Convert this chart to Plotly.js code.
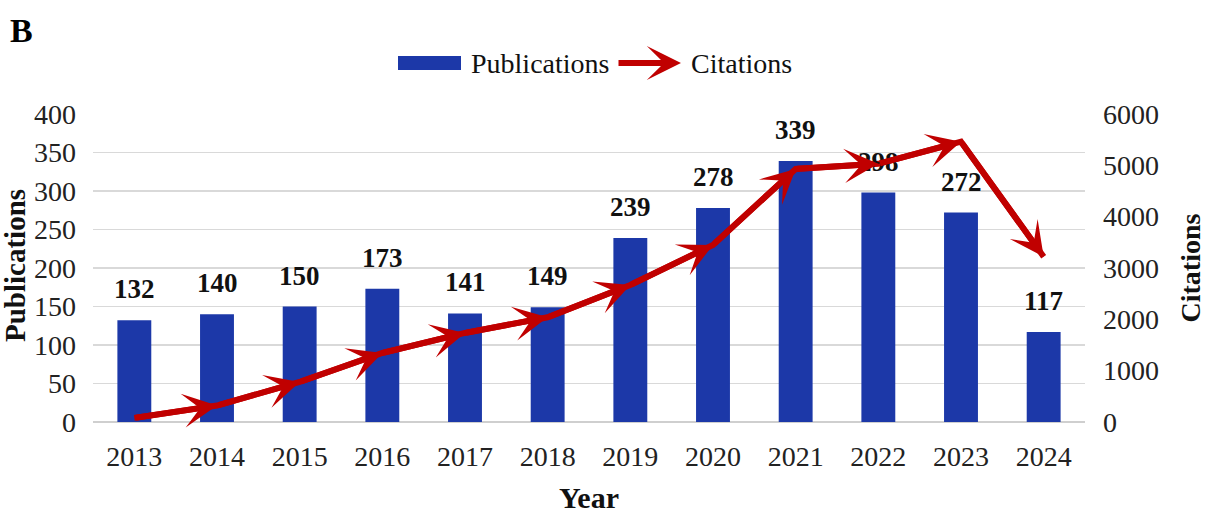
<!DOCTYPE html>
<html>
<head>
<meta charset="utf-8">
<script src="https://cdn.plot.ly/plotly-3.0.1.min.js"></script>
<style>html,body{margin:0;padding:0;background:#fff;}#chart{width:1213px;height:515px;}</style>
</head>
<body>
<div id="chart"></div>
<script>
const years = ['2013','2014','2015','2016','2017','2018','2019','2020','2021','2022','2023','2024'];
const publications = [132,140,150,173,141,149,239,278,339,298,272,117];
const citations = [80,320,780,1345,1735,2040,2670,3450,4930,5030,5460,3220];
const leftTicks = [0,50,100,150,200,250,300,350,400];
const rightTicks = [0,1000,2000,3000,4000,5000,6000];

const FONT = 'Liberation Serif, Times New Roman, serif';
const RED = '#c00000';
const BLUE = '#1c38a8';

const W = 1213, H = 515, ML = 93, MR = 128, MT = 114, MB = 93;
const PW = W - ML - MR, PH = H - MT - MB;
const px = X => (X - ML) / PW;
const py = Y => (H - MB - Y) / PH;

const traces = [
  {type:'bar', name:'Publications', x:years, y:publications, marker:{color:BLUE}, width:0.41, yaxis:'y', hoverinfo:'skip'},
  {type:'scatter', mode:'lines', name:'Citations', x:years, y:citations, yaxis:'y2', line:{color:RED, width:6}, hoverinfo:'skip'}
];

const annotations = [];
const shapes = [];
// bar value labels
years.forEach((yr,i)=>{
  annotations.push({x:i, y:publications[i], xref:'x', yref:'y', text:'<b>'+publications[i]+'</b>', showarrow:false,
    yanchor:'middle', yshift:31, font:{family:FONT, size:27, color:'#111'}});
});
// arrowheads on citation segments
for(let i=1;i<years.length;i++){
  annotations.push({x:i, y:citations[i], xref:'x', yref:'y2', axref:'x', ayref:'y2',
    ax:i-1, ay:citations[i-1], text:'', showarrow:true, arrowhead:3, arrowsize:0.95, arrowwidth:6, arrowcolor:RED, standoff:0});
}
// panel letter
annotations.push({x:px(21), y:py(30), xref:'paper', yref:'paper', xanchor:'center', yanchor:'middle', text:'<b>B</b>', showarrow:false,
  font:{family:FONT, size:34, color:'#000'}});
// left axis title
annotations.push({x:px(15), y:py(266), xref:'paper', yref:'paper', xanchor:'center', yanchor:'middle', textangle:-90,
  text:'<b>Publications</b>', showarrow:false, font:{family:FONT, size:29, color:'#111'}});
// custom legend
shapes.push({type:'rect', xref:'paper', yref:'paper', x0:px(398), x1:px(461), y0:py(70), y1:py(56), fillcolor:BLUE, line:{width:0}});
annotations.push({x:px(469), y:py(63), xref:'paper', yref:'paper', xanchor:'left', yanchor:'middle', text:'Publications', showarrow:false,
  font:{family:FONT, size:28, color:'#111'}});
annotations.push({x:px(681), y:py(63), xref:'paper', yref:'paper', axref:'pixel', ayref:'pixel', ax:-64, ay:0, text:'', showarrow:true,
  arrowhead:3, arrowsize:0.95, arrowwidth:6, arrowcolor:RED, standoff:0});
annotations.push({x:px(689), y:py(63), xref:'paper', yref:'paper', xanchor:'left', yanchor:'middle', text:'Citations', showarrow:false,
  font:{family:FONT, size:28, color:'#111'}});

const layout = {
  width:W, height:H,
  margin:{l:ML, r:MR, t:MT, b:MB},
  paper_bgcolor:'#fff', plot_bgcolor:'#fff',
  font:{family:FONT, size:28, color:'#222'},
  showlegend:false,
  xaxis:{type:'category', range:[-0.5, 11.5], tickfont:{family:FONT, size:28, color:'#222'}, ticks:'', ticklabelstandoff:15, showgrid:false, showline:false, zeroline:false,
    title:{text:'<b>Year</b>', font:{family:FONT, size:30, color:'#111'}, standoff:15}, automargin:false},
  yaxis:{range:[0,400], tickvals:leftTicks, ticks:'', ticklabelstandoff:16, showgrid:true, gridcolor:'#d9d9d9', gridwidth:1.3, zeroline:true, zerolinecolor:'#cfcfcf', zerolinewidth:1.5,
    tickfont:{family:FONT, size:28, color:'#222'}, automargin:false},
  yaxis2:{range:[0,6000], tickvals:rightTicks, overlaying:'y', side:'right', ticks:'', ticklabelstandoff:17, showgrid:false, zeroline:false,
    tickfont:{family:FONT, size:28, color:'#222'},
    title:{text:'<b>Citations</b>', font:{family:FONT, size:28, color:'#111'}, standoff:22}, automargin:false},
  annotations:annotations,
  shapes:shapes
};

Plotly.newPlot('chart', traces, layout, {staticPlot:true, displayModeBar:false});
</script>
</body>
</html>
